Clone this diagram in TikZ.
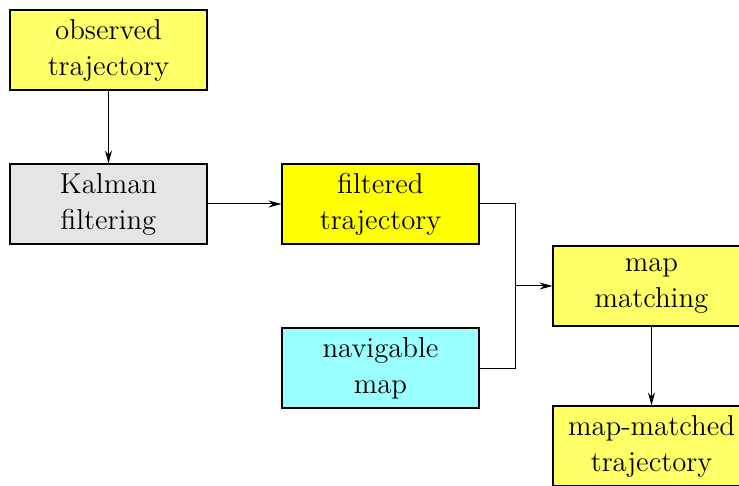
\documentclass[tikz,border=0pt]{standalone}
\usepackage{amsmath}
\usetikzlibrary{arrows.meta}

\definecolor{paleyellow}{RGB}{255,255,102}
\definecolor{paleteal}{RGB}{153,255,255}
\definecolor{palegray}{RGB}{229,229,229}

\tikzset{
  stagebox/.style={draw, line width=0.55pt, minimum width=98.5pt, minimum height=40pt,
    align=center, font=\Large, inner sep=2pt},
  flow/.style={-{Stealth[length=6.5pt,width=3.5pt]}, line width=0.5pt}
}

\begin{document}
\begin{tikzpicture}[x=0.5pt,y=-0.5pt]
        \useasboundingbox (0,0) rectangle (739,486);
        \node[stagebox, fill=paleyellow] (observed) at (108.5,50) {observed\\trajectory};
        \node[stagebox, fill=palegray] (kalman) at (108.5,204) {Kalman\\filtering};
        \node[stagebox, fill={rgb,255:red,255;green,255;blue,0}] (filtered) at (380.5,204) {filtered\\trajectory};
        \node[stagebox, fill=paleteal] (navmap) at (380.5,368) {navigable\\map};
        \node[stagebox, fill=paleyellow] (matching) at (651.5,286) {map\\matching};
        \node[stagebox, fill=paleyellow] (matched) at (651.5,446) {map-matched\\trajectory};
        \coordinate (join) at (515,286);
        \draw[flow] (observed) -- (kalman);
        \draw[flow] (kalman) -- (filtered);
        \draw[line width=0.5pt] (filtered.east) -| (join);
        \draw[line width=0.5pt] (navmap.east) -| (join);
        \draw[flow] (join) -- (matching);
        \draw[flow] (matching) -- (matched);
      \end{tikzpicture}
\end{document}
